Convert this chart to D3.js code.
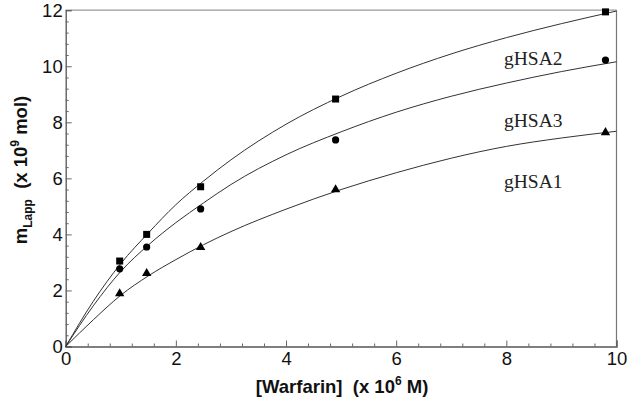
<!DOCTYPE html>
<html>
<head>
<meta charset="utf-8">
<script src="https://cdn.jsdelivr.net/npm/d3@7"></script>
<style>
  html, body { margin: 0; padding: 0; background: #fff; }
  svg { display: block; }
  .sans { font-family: "Liberation Sans", Arial, sans-serif; }
  .serif { font-family: "Liberation Serif", "Times New Roman", serif; }
</style>
</head>
<body>
<svg id="chart" width="629" height="405"></svg>
<script>
// ---- data ----
const pointX = [0.98, 1.47, 2.45, 4.9, 9.8];
const gHSA2pts = [3.05, 4.0, 5.70, 8.83, 11.94];   // squares
const gHSA3pts = [2.77, 3.55, 4.91, 7.37, 10.22];  // circles
const gHSA1pts = [1.87, 2.59, 3.52, 5.58, 7.62];   // triangles

const curveX    = [0, 0.5, 1, 1.5, 2, 2.5, 3, 4, 5, 6, 7, 8, 9, 10];
const gHSA2curve = [0, 1.61, 2.96, 4.05, 5.06, 5.90, 6.66, 7.93, 8.93, 9.75, 10.44, 11.02, 11.52, 11.97];
const gHSA3curve = [0, 1.45, 2.68, 3.62, 4.42, 5.12, 5.78, 6.84, 7.66, 8.36, 8.93, 9.40, 9.81, 10.16];
const gHSA1curve = [0, 0.95, 1.83, 2.52, 3.10, 3.63, 4.10, 4.90, 5.60, 6.20, 6.72, 7.14, 7.44, 7.68];

const xTicks = [0, 2, 4, 6, 8, 10];
const yTicks = [0, 2, 4, 6, 8, 10, 12];
const seriesLabels = ["gHSA2", "gHSA3", "gHSA1"];
const labelPos = [[504, 10.05], [504, 7.83], [504, 5.65]]; // [px x, data y baseline]

// ---- layout ----
const svg = d3.select("#chart");
const mL = 65.7, mR = 616.5, mT = 10.2, mB = 346.5;
const x = d3.scaleLinear().domain([0, 10]).range([mL, mR]);
const y = d3.scaleLinear().domain([0, 12]).range([mB, mT]);

const axisColor = "#555";
const frameColor = "#999";

// frame (top & right)
svg.append("line").attr("x1", mL).attr("x2", mR).attr("y1", mT).attr("y2", mT)
  .attr("stroke", frameColor).attr("stroke-width", 1.2);
svg.append("line").attr("x1", mR).attr("x2", mR).attr("y1", mT).attr("y2", mB)
  .attr("stroke", "#777").attr("stroke-width", 1.2);

// minor ticks
const xMinor = d3.range(0, 10.001, 0.4).filter(v => Math.abs(v/2 - Math.round(v/2)) > 1e-6);
const yMinor = d3.range(0, 12.001, 0.4).filter(v => Math.abs(v/2 - Math.round(v/2)) > 1e-6);

const gx = svg.append("g").attr("transform", `translate(0,${mB})`)
  .call(d3.axisBottom(x).tickValues(xTicks).tickSize(-6).tickPadding(5).tickFormat(d3.format("d")));
svg.append("g").attr("transform", `translate(0,${mB})`)
  .call(d3.axisBottom(x).tickValues(xMinor).tickSize(-3).tickFormat(""))
  .call(g => g.select(".domain").remove());

const gy = svg.append("g").attr("transform", `translate(${mL},0)`)
  .call(d3.axisLeft(y).tickValues(yTicks).tickSize(-6).tickPadding(3).tickFormat(d3.format("d")));
svg.append("g").attr("transform", `translate(${mL},0)`)
  .call(d3.axisLeft(y).tickValues(yMinor).tickSize(-3).tickFormat(""))
  .call(g => g.select(".domain").remove());

svg.selectAll("g").attr("font-family", null).attr("font-size", null);
svg.selectAll(".domain").attr("stroke", axisColor).attr("stroke-width", 1.3);
svg.selectAll(".tick line").attr("stroke", "#666");
svg.selectAll(".tick text").attr("class", "sans")
  .style("font-size", "18.5px").attr("fill", "#111");

// curves
const line = d3.line().x(d => x(d[0])).y(d => y(d[1])).curve(d3.curveMonotoneX);
[gHSA2curve, gHSA3curve, gHSA1curve].forEach(c => {
  svg.append("path").datum(curveX.map((v, i) => [v, c[i]]))
    .attr("d", line).attr("fill", "none").attr("stroke", "#333").attr("stroke-width", 1);
});

// markers
svg.append("g").selectAll("rect").data(pointX.map((v, i) => [v, gHSA2pts[i]])).join("rect")
  .attr("x", d => x(d[0]) - 3.5).attr("y", d => y(d[1]) - 3.5)
  .attr("width", 7).attr("height", 7).attr("fill", "#000");
svg.append("g").selectAll("circle").data(pointX.map((v, i) => [v, gHSA3pts[i]])).join("circle")
  .attr("cx", d => x(d[0])).attr("cy", d => y(d[1])).attr("r", 3.6).attr("fill", "#000");
const tri = d3.symbol().type(d3.symbolTriangle).size(38);
svg.append("g").selectAll("path").data(pointX.map((v, i) => [v, gHSA1pts[i]])).join("path")
  .attr("transform", d => `translate(${x(d[0])},${y(d[1]) - 0.5})`).attr("d", tri).attr("fill", "#000");

// series labels
seriesLabels.forEach((t, i) => {
  svg.append("text").attr("class", "serif").attr("x", labelPos[i][0]).attr("y", y(labelPos[i][1]))
    .style("font-size", "19.5px").attr("fill", "#222").text(t);
});

// x axis title
const xt = svg.append("text").attr("class", "sans").attr("x", x(5) + 1).attr("y", 393)
  .attr("text-anchor", "middle")
  .style("font-size", "18.5px").style("font-weight", "bold").attr("fill", "#111");
xt.append("tspan").text("[Warfarin]\u00a0\u00a0(x 10");
xt.append("tspan").attr("dy", -8).style("font-size", "12px").text("6");
xt.append("tspan").attr("dy", 8).text("\u00a0M)");

// y axis title
const yt = svg.append("text").attr("class", "sans").attr("transform", `translate(27,${170}) rotate(-90)`)
  .attr("text-anchor", "middle")
  .style("font-size", "18.5px").style("font-weight", "bold").attr("fill", "#111");
yt.append("tspan").text("m");
yt.append("tspan").attr("dy", 5).style("font-size", "12px").text("Lapp");
yt.append("tspan").attr("dy", -5).text("\u00a0\u00a0(x 10");
yt.append("tspan").attr("dy", -8).style("font-size", "12px").text("9");
yt.append("tspan").attr("dy", 8).text("\u00a0mol)");
</script>
</body>
</html>
